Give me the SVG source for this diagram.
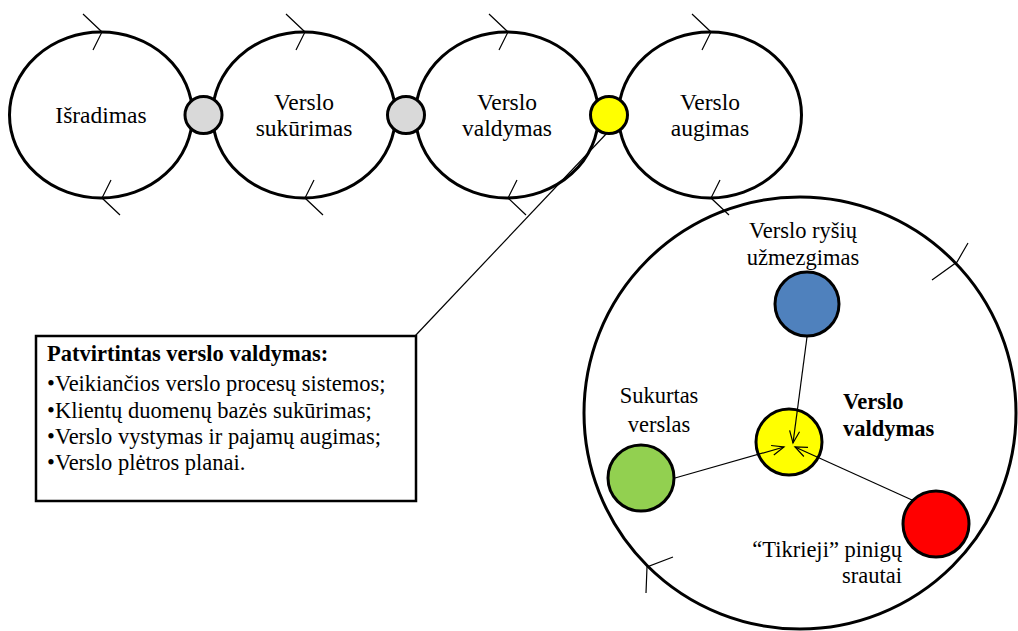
<svg xmlns="http://www.w3.org/2000/svg" width="1018" height="631" viewBox="0 0 1018 631">
<style>
text{font-family:"Liberation Serif","Times New Roman","DejaVu Serif",serif;fill:#000}
.lbl{font-size:23.5px;text-anchor:middle}
.in{font-size:22.5px}
.box{font-size:22.5px}
.b{font-weight:bold}
.ell{fill:none;stroke:#000;stroke-width:3}
.dot{stroke:#000;stroke-width:3}
.thin{fill:none;stroke:#000;stroke-width:1.2}
</style>
<defs>
<marker id="ah" markerUnits="userSpaceOnUse" markerWidth="14" markerHeight="12" refX="12" refY="5" orient="auto" overflow="visible">
<path d="M0,0 L12,5 L0,10" fill="none" stroke="#000" stroke-width="1.2"/>
</marker>
<g id="marks">
<polyline class="thin" points="83,14 102,32 93,50"/>
<polyline class="thin" points="111,180 102,198 120,215"/>
</g>
</defs>
<g font-family="Liberation Serif, Times New Roman, serif">
<g id="n-isradimas">
<ellipse class="ell" cx="101" cy="115" rx="91.5" ry="83"/>
<use href="#marks"/>
<text class="lbl" x="101" y="123">Išradimas</text>
</g>
<g id="n-sukurimas">
<ellipse class="ell" cx="304" cy="115" rx="91.5" ry="83"/>
<use href="#marks" transform="translate(203,0)"/>
<text class="lbl" x="304" y="110">Verslo</text>
<text class="lbl" x="304" y="136">sukūrimas</text>
</g>
<g id="n-valdymas">
<ellipse class="ell" cx="507" cy="115" rx="91.5" ry="83"/>
<use href="#marks" transform="translate(406,0)"/>
<text class="lbl" x="507" y="110">Verslo</text>
<text class="lbl" x="507" y="136">valdymas</text>
</g>
<g id="n-augimas">
<ellipse class="ell" cx="710" cy="115" rx="91.5" ry="83"/>
<use href="#marks" transform="translate(609,0)"/>
<text class="lbl" x="710" y="110">Verslo</text>
<text class="lbl" x="710" y="136">augimas</text>
</g>
<g id="j1"><circle class="dot" cx="203.5" cy="115" r="18.5" fill="#D9D9D9"/></g>
<g id="j2"><circle class="dot" cx="406" cy="115" r="18.5" fill="#D9D9D9"/></g>
<g id="j3"><circle class="dot" cx="609" cy="115" r="18.5" fill="#FFFF00"/></g>
<g id="n-box">
<rect x="36" y="336" width="380" height="165" fill="#fff" stroke="#000" stroke-width="2.5"/>
<text class="box b" x="47" y="361">Patvirtintas verslo valdymas:</text>
<text class="box" x="47" y="391">•Veikiančios verslo procesų sistemos;</text>
<text class="box" x="47" y="418">•Klientų duomenų bazės sukūrimas;</text>
<text class="box" x="47" y="444">•Verslo vystymas ir pajamų augimas;</text>
<text class="box" x="47" y="470">•Verslo plėtros planai.</text>
</g>
<g id="n-cycle">
<circle cx="800" cy="413" r="216" fill="none" stroke="#000" stroke-width="3"/>
<polyline class="thin" points="968,243 957,262 932,280"/>
<polyline class="thin" points="673,557 647,567 646,593"/>
</g>
<g id="n-rysiai">
<circle class="dot" cx="807" cy="304" r="32" fill="#4F81BD"/>
<text class="in" x="803" y="238" text-anchor="middle">Verslo ryšių</text>
<text class="in" x="803" y="265" text-anchor="middle">užmezgimas</text>
</g>
<g id="n-sukurtas">
<circle class="dot" cx="641" cy="478" r="33" fill="#92D050"/>
<text class="in" x="659" y="403" text-anchor="middle">Sukurtas</text>
<text class="in" x="659" y="432" text-anchor="middle">verslas</text>
</g>
<g id="n-center">
<circle class="dot" cx="789" cy="442" r="33" fill="#FFFF00"/>
<text class="in b" x="843" y="409">Verslo</text>
<text class="in b" x="843" y="436">valdymas</text>
</g>
<g id="n-srautai">
<circle class="dot" cx="936" cy="524" r="33" fill="#FF0000"/>
<text class="in" x="902" y="557" text-anchor="end">“Tikrieji” pinigų</text>
<text class="in" x="902" y="583" text-anchor="end">srautai</text>
</g>
<g id="connectors">
<line class="thin" x1="607" y1="133" x2="415" y2="336"/>
<line class="thin" x1="807" y1="337" x2="793" y2="443" marker-end="url(#ah)"/>
<line class="thin" x1="675" y1="478" x2="784" y2="447" marker-end="url(#ah)"/>
<line class="thin" x1="912" y1="500" x2="795" y2="447" marker-end="url(#ah)"/>
</g>
</g>
</svg>
